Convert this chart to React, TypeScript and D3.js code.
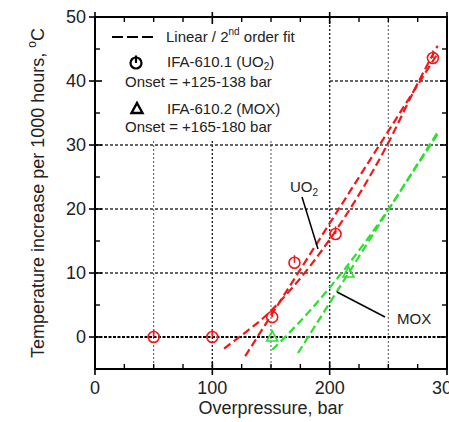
import * as d3 from "d3";

const uo2X = [50, 100, 151, 170, 205, 288];
const uo2Y = [0, 0, 3.1, 11.6, 16.1, 43.6];
const moxX = [151, 216];
const moxY = [0, 10];

// fit curves, sampled from the figure
const uo2LinX = [128, 291];
const uo2LinY = [-3, 44];
const uo2QuadX = [110, 123, 146, 171, 201, 249, 276, 292];
const uo2QuadY = [-1.8, 0, 3.4, 8.3, 15.5, 30, 40, 45.5];
const moxLinX = [173, 292];
const moxLinY = [-2.5, 32];
const moxQuadX = [151, 162, 186, 211, 231, 251, 271, 292];
const moxQuadY = [-2, 0, 4.7, 10.2, 15, 20.2, 25.8, 31.7];

const xMajor = [0, 100, 200, 300];
const xMinor = [25, 50, 75, 125, 150, 175, 225, 250, 275];
const xGrid = [50, 100, 150, 200, 250];
const yMajor = [0, 10, 20, 30, 40, 50];
const yMinor = [-5, 5, 15, 25, 35, 45];
const yGrid = [10, 20, 30, 40];

const RED = "#f01818";
const GREEN = "#2ee02e";
const FONT = "Liberation Sans, Arial, sans-serif";

const W = 449, H = 422;
const left = 95, right = 447, top = 17, bottom = 369;

export default function App() {
  const x = d3.scaleLinear().domain([0, 300]).range([left, right]);
  const y = d3.scaleLinear().domain([-5, 50]).range([bottom, top]);

  const line = d3
    .line<[number, number]>()
    .x((d) => x(d[0]))
    .y((d) => y(d[1]))
    .curve(d3.curveMonotoneX);
  const zip = (a: number[], b: number[]) => a.map((v, i) => [v, b[i]] as [number, number]);

  const fits = [
    { d: zip(uo2QuadX, uo2QuadY), c: RED },
    { d: zip(uo2LinX, uo2LinY), c: RED },
    { d: zip(moxQuadX, moxQuadY), c: GREEN },
    { d: zip(moxLinX, moxLinY), c: GREEN },
  ];

  const circleMark = (cx: number, cy: number, color: string, key: any, sw = 1.6) => (
    <g key={key} transform={`translate(${cx},${cy})`} fill="none" stroke={color} strokeWidth={sw}>
      <circle r={5.5} />
      <line x1={0} x2={0} y1={-7.5} y2={0} />
    </g>
  );
  const triMark = (cx: number, cy: number, color: string, key: any, sw = 1.6) => (
    <path
      key={key}
      transform={`translate(${cx},${cy})`}
      d="M0,-6L5.5,4L-5.5,4Z"
      fill="none"
      stroke={color}
      strokeWidth={sw}
      strokeLinejoin="miter"
    />
  );

  return (
    <svg
      width={W}
      height={H}
      style={{ position: "absolute", left: 0, top: 0, background: "#fff" }}
      fontFamily={FONT}
    >
      {/* grid */}
      {xGrid.map((v) => (
        <line
          key={"gx" + v}
          x1={x(v)}
          x2={x(v)}
          y1={top}
          y2={bottom}
          stroke={v % 100 === 0 ? "#222" : "#555"}
          strokeWidth={v % 100 === 0 ? 1.4 : 1}
          strokeDasharray="2,2"
        />
      ))}
      {yGrid.map((v) => (
        <line
          key={"gy" + v}
          x1={left}
          x2={right}
          y1={y(v)}
          y2={y(v)}
          stroke="#333"
          strokeWidth={1.3}
          strokeDasharray="3,2"
        />
      ))}
      <line x1={left} x2={right} y1={y(0)} y2={y(0)} stroke="#000" strokeWidth={2.2} strokeDasharray="3,1.5" />

      {/* legend background hides the grid behind it */}
      <rect x={left} y={top} width={x(199) - left} height={124} fill="#fff" />

      {/* fit lines */}
      {fits.map((f, i) => (
        <path
          key={"f" + i}
          d={line(f.d) || ""}
          fill="none"
          stroke={f.c}
          strokeWidth={2.2}
          strokeDasharray="8,4"
        />
      ))}

      {/* markers */}
      {uo2X.map((v, i) => circleMark(x(v), y(uo2Y[i]), RED, "u" + i))}
      {moxX.map((v, i) => triMark(x(v), y(moxY[i]), GREEN, "m" + i))}

      {/* frame */}
      <rect x={left} y={top} width={right - left} height={bottom - top} fill="none" stroke="#000" strokeWidth={2} />

      {/* x ticks */}
      {xMajor.map((v) => (
        <g key={"xt" + v}>
          <line x1={x(v)} x2={x(v)} y1={bottom - 7} y2={bottom + 6} stroke="#000" strokeWidth={1.6} />
          <line x1={x(v)} x2={x(v)} y1={top - 5} y2={top + 7} stroke="#000" strokeWidth={1.6} />
          <text x={x(v)} y={bottom + 25} textAnchor="middle" fontSize={18} fill="#222">
            {v}
          </text>
        </g>
      ))}
      {xMinor.map((v) => (
        <g key={"xm" + v}>
          <line x1={x(v)} x2={x(v)} y1={bottom - 5} y2={bottom} stroke="#000" strokeWidth={1.4} />
          <line x1={x(v)} x2={x(v)} y1={top} y2={top + 5} stroke="#000" strokeWidth={1.4} />
        </g>
      ))}

      {/* y ticks */}
      {yMajor.map((v) => (
        <g key={"yt" + v}>
          <line x1={left - 6} x2={left + 7} y1={y(v)} y2={y(v)} stroke="#000" strokeWidth={1.6} />
          <line x1={right - 7} x2={right} y1={y(v)} y2={y(v)} stroke="#000" strokeWidth={1.6} />
          <text x={left - 9} y={y(v)} dy="0.35em" textAnchor="end" fontSize={18} fill="#222">
            {v}
          </text>
        </g>
      ))}
      {yMinor.map((v) => (
        <g key={"ym" + v}>
          <line x1={left} x2={left + 5} y1={y(v)} y2={y(v)} stroke="#000" strokeWidth={1.4} />
          <line x1={right - 5} x2={right} y1={y(v)} y2={y(v)} stroke="#000" strokeWidth={1.4} />
        </g>
      ))}

      {/* axis titles */}
      <text x={(left + right) / 2} y={414} textAnchor="middle" fontSize={18} fill="#222">
        Overpressure, bar
      </text>
      <text
        transform={`translate(44,${(top + bottom) / 2}) rotate(-90)`}
        textAnchor="middle"
        fontSize={18}
        fill="#222"
      >
        Temperature increase per 1000 hours,{" "}
        <tspan fontSize={12} dy={-8}>
          o
        </tspan>
        <tspan dy={8}>C</tspan>
      </text>

      {/* legend */}
      <g fontSize={15} fill="#222">
        <line x1={112} x2={155} y1={37} y2={37} stroke="#000" strokeWidth={2} strokeDasharray="11,4" />
        <text x={166} y={42}>
          Linear / 2
          <tspan fontSize={10} dy={-7}>
            nd
          </tspan>
          <tspan dy={7}> order fit</tspan>
        </text>
        {circleMark(136, 63, "#000", "lc", 2.2)}
        <text x={167} y={67}>
          IFA-610.1 (UO
          <tspan fontSize={10} dy={3}>
            2
          </tspan>
          <tspan dy={-3}>)</tspan>
        </text>
        <text x={125} y={87}>
          Onset = +125-138 bar
        </text>
        {triMark(137, 109, "#000", "lt", 2.4)}
        <text x={167} y={114}>
          IFA-610.2 (MOX)
        </text>
        <text x={125} y={132}>
          Onset = +165-180 bar
        </text>
      </g>

      {/* annotations */}
      <g fontSize={15} fill="#222">
        <text x={290} y={192}>
          UO
          <tspan fontSize={10} dy={4}>
            2
          </tspan>
        </text>
        <line x1={302} y1={197} x2={318} y2={249} stroke="#000" strokeWidth={1.5} />
        <text x={397} y={324}>
          MOX
        </text>
        <line x1={337} y1={292} x2={385} y2={317} stroke="#000" strokeWidth={1.5} />
      </g>
    </svg>
  );
}
